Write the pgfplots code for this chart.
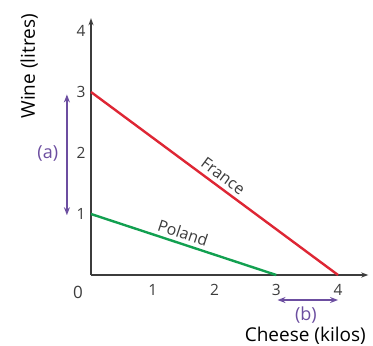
\documentclass[border=0pt]{standalone}
\usepackage{pgfplots}
\pgfplotsset{compat=1.18}
\usepackage{fontspec}
\setmainfont{Open Sans}
\usetikzlibrary{arrows.meta}
\definecolor{franceRed}{RGB}{222,38,52}
\definecolor{polandGreen}{RGB}{18,160,80}
\definecolor{arrPurple}{RGB}{108,78,160}
\definecolor{axGray}{RGB}{60,60,60}
\begin{document}
\begin{tikzpicture}[font=\fontsize{15.5}{18}\selectfont]
\useasboundingbox (-91pt,-71pt) rectangle (282pt,275pt);
\begin{axis}[
  at={(0pt,0pt)}, anchor=south west,
  scale only axis,
  width=277.3pt, height=256.8pt,
  xmin=0, xmax=4.49, ymin=0, ymax=4.21,
  axis lines=left,
  axis line style={axGray, line width=1.4pt, -{Stealth[length=7pt,width=5pt]}},
  xtick={1,2,3,4}, ytick={1,2,3,4},
  major tick length=0pt,
  tick style={draw=none},
  /pgf/number format/assume math mode=true,
  ticklabel style={font=\fontsize{15.5}{18}\selectfont},
  xticklabel style={yshift=-6pt, text=axGray},
  yticklabel style={xshift=-2pt, text=axGray},
  clip=false,
]
\addplot[franceRed, line width=2.4pt] coordinates {(0,3) (4,0)};
\addplot[polandGreen, line width=2.4pt] coordinates {(0,1) (3,0)};
\node[rotate=-36.5, text=axGray, font=\fontsize{16}{18}\selectfont] at (axis cs:2.14,1.62) {France};
\node[rotate=-18.2, text=axGray, font=\fontsize{16}{18}\selectfont] at (axis cs:1.49,0.69) {Poland};
\node[text=axGray, font=\fontsize{17}{18}\selectfont] at (axis cs:-0.21,-0.28) {0};
\draw[arrPurple, line width=1.8pt, {Stealth[length=8pt,width=6pt]}-{Stealth[length=8pt,width=6pt]}] (axis cs:-0.39,0.98) -- (axis cs:-0.39,2.96);
\node[text=arrPurple, font=\fontsize{18}{20}\selectfont] at (axis cs:-0.70,2.0) {(a)};
\draw[arrPurple, line width=1.8pt, {Stealth[length=8pt,width=6pt]}-{Stealth[length=8pt,width=6pt]}] (axis cs:3.02,-0.41) -- (axis cs:4.0,-0.41);
\node[text=arrPurple, font=\fontsize{18}{20}\selectfont] at (axis cs:3.48,-0.66) {(b)};
\node[text=black, font=\fontsize{19}{22}\selectfont] at (axis cs:3.47,-0.99) {Cheese (kilos)};
\node[text=black, rotate=90, font=\fontsize{19}{22}\selectfont] at (axis cs:-1.0,3.42) {Wine (litres)};
\end{axis}
\end{tikzpicture}
\end{document}
